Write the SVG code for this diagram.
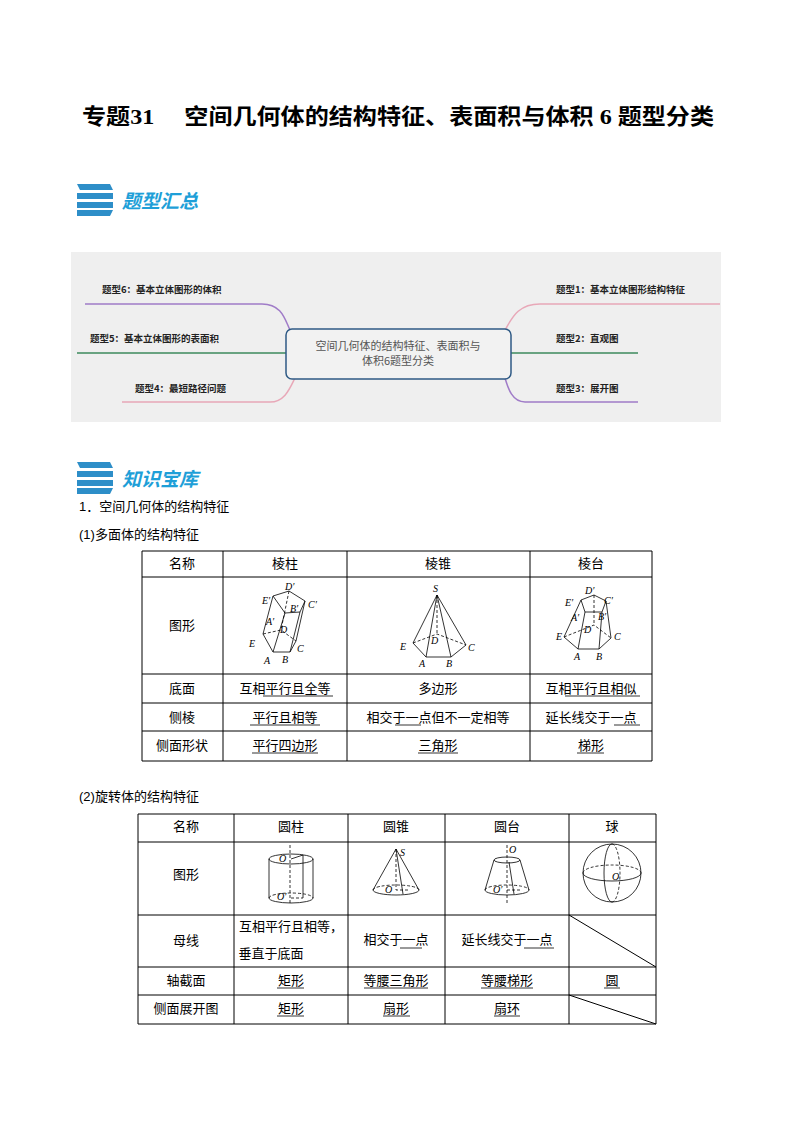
<svg xmlns="http://www.w3.org/2000/svg" width="794" height="1123" viewBox="0 0 794 1123">
<style>
.t{font-family:"Liberation Serif","Noto Sans CJK SC",serif;fill:#000}
.s{font-family:"Liberation Sans","Noto Sans CJK SC",sans-serif;font-size:13px;fill:#000}
.m{font-family:"Noto Sans CJK SC",sans-serif;font-size:9.5px;font-weight:bold;fill:#222}
.c{text-anchor:middle}
.g{stroke:#000;stroke-width:1;fill:none}
.f{stroke:#000;stroke-width:0.8;fill:none}
.d{stroke:#000;stroke-width:0.8;fill:none;stroke-dasharray:3 2}
.l{font-family:"Liberation Serif",serif;font-style:italic;font-size:10px}
.h{font-family:"Noto Sans CJK SC",serif;font-size:19px;font-weight:bold;fill:#1e9fd8;font-style:italic}
</style>
<text class="t" x="82" y="124" font-size="22" font-weight="bold" textLength="632" lengthAdjust="spacingAndGlyphs">专题31　 空间几何体的结构特征、表面积与体积 6 题型分类</text>
<g id="icon1">
<path d="M77 184 L110 184 L113 190 L80 190 Z M77 193 L113 193 L113 199 L77 199 Z M77 202 L113 202 L113 208 L77 208 Z M77 210 L113 210 L110 216 L77 216 Z" fill="#2d8ec8"/>
<text class="h" x="122" y="208">题型汇总</text>
</g>
<g id="mindmap">
<rect x="71" y="252" width="650" height="170" fill="#efefef"/>
<path d="M85 304 H262 C282 304 285 320 290 330" stroke="#a07cc8" stroke-width="1.5" fill="none"/>
<path d="M77 353 H286" stroke="#3d8a5c" stroke-width="1.5" fill="none"/>
<path d="M122 402 H270 C285 402 290 388 295 378" stroke="#e8a8b8" stroke-width="1.5" fill="none"/>
<path d="M720 304 H540 C518 304 512 318 505 330" stroke="#e8a8b8" stroke-width="1.5" fill="none"/>
<path d="M511 353 H638" stroke="#3d8a5c" stroke-width="1.5" fill="none"/>
<path d="M638 402 H525 C512 402 508 388 505 378" stroke="#a07cc8" stroke-width="1.5" fill="none"/>
<rect x="286" y="329" width="225" height="50" rx="6" fill="#f2f2f2" stroke="#2f5a85" stroke-width="1.5"/>
<text class="c" x="398" y="350" font-family="Noto Sans CJK SC,sans-serif" font-size="11" fill="#555">空间几何体的结构特征、表面积与</text>
<text class="c" x="398" y="365" font-family="Noto Sans CJK SC,sans-serif" font-size="11" fill="#555">体积6题型分类</text>
<text class="m" x="102" y="293">题型6：基本立体图形的体积</text>
<text class="m" x="90" y="342">题型5：基本立体图形的表面积</text>
<text class="m" x="135" y="392">题型4：最短路径问题</text>
<text class="m" x="556" y="293">题型1：基本立体图形结构特征</text>
<text class="m" x="556" y="342">题型2：直观图</text>
<text class="m" x="556" y="392">题型3：展开图</text>
</g>
<g id="icon2">
<path d="M77 462 L110 462 L113 468 L80 468 Z M77 471 L113 471 L113 477 L77 477 Z M77 480 L113 480 L113 486 L77 486 Z M77 488 L113 488 L110 494 L77 494 Z" fill="#2d8ec8"/>
<text class="h" x="122" y="486">知识宝库</text>
</g>
<text class="s" x="79" y="511">1．空间几何体的结构特征</text>
<text class="s" x="79" y="539">(1)多面体的结构特征</text>
<g id="table1">
<path class="g" d="M142 551 H652 V761 H142 Z M142 577 H652 M142 674 H652 M142 703 H652 M142 731 H652 M223 551 V761 M347 551 V761 M530 551 V761"/>
<g class="s c">
<text x="182" y="568">名称</text><text x="285" y="568">棱柱</text><text x="438" y="568">棱锥</text><text x="591" y="568">棱台</text>
<text x="182" y="630">图形</text>
<text x="182" y="693">底面</text><text x="285" y="693">互相平行且全等</text><text x="438" y="693">多边形</text><text x="591" y="693">互相平行且相似</text>
<text x="182" y="722">侧棱</text><text x="285" y="722">平行且相等</text><text x="438" y="722">相交于一点但不一定相等</text><text x="591" y="722">延长线交于一点</text>
<text x="182" y="750">侧面形状</text><text x="285" y="750">平行四边形</text><text x="438" y="750">三角形</text><text x="591" y="750">梯形</text>
</g>
<path class="f" d="M263 696 H333 M250 725 H320 M565 696 H640 M614 725 H640 M252 753 H318 M418 753 H458 M577 753 H604 M395 725 H421"/>
<!-- prism -->
<path class="f" d="M273 596 L289 591 L305 601 L300 612 L285 613 Z M273 596 L263 634 M285 613 L273 652 M300 612 L290 652 M305 601 L296 641 M263 634 L273 652 L290 652 L296 641"/>
<path class="d" d="M289 591 L281 630 M263 634 L281 630 L296 641"/>
<g class="l"><text x="285" y="590">D′</text><text x="262" y="604">E′</text><text x="290" y="612">B′</text><text x="308" y="608">C′</text><text x="266" y="625">A′</text><text x="280" y="633">D</text><text x="249" y="647">E</text><text x="297" y="652">C</text><text x="264" y="664">A</text><text x="282" y="663">B</text></g>
<!-- pyramid -->
<path class="f" d="M437 595 L413 643 L426 657 L451 657 L466 645 Z M437 595 L426 657 M437 595 L451 657"/>
<path class="d" d="M437 595 L437 634 M413 643 L437 634 L466 645"/>
<g class="l"><text x="433" y="592">S</text><text x="431" y="644">D</text><text x="400" y="650">E</text><text x="468" y="651">C</text><text x="419" y="667">A</text><text x="446" y="667">B</text></g>
<!-- frustum -->
<path class="f" d="M581 600 L594 595 L606 601 L602 612 L585 612 Z M581 600 L564 637 L578 649 L599 649 L611 638 L606 601 M585 612 L578 649 M602 612 L599 649"/>
<path class="d" d="M594 595 L594 625 M564 637 L594 625 L611 638"/>
<g class="l"><text x="585" y="594">D′</text><text x="565" y="606">E′</text><text x="604" y="604">C′</text><text x="571" y="621">A′</text><text x="598" y="620">B′</text><text x="584" y="633">D</text><text x="556" y="640">E</text><text x="614" y="640">C</text><text x="574" y="660">A</text><text x="596" y="660">B</text></g>
</g>
<text class="s" x="79" y="801">(2)旋转体的结构特征</text>
<g id="table2">
<path class="g" d="M138 814 H656 V1024 H138 Z M138 842 H656 M138 915 H656 M138 967 H656 M138 995 H656 M234 814 V1024 M348 814 V1024 M445 814 V1024 M569 814 V1024 M569 915 L656 967 M569 995 L656 1024"/>
<g class="s c">
<text x="186" y="831">名称</text><text x="291" y="831">圆柱</text><text x="396" y="831">圆锥</text><text x="507" y="831">圆台</text><text x="612" y="831">球</text>
<text x="186" y="879">图形</text>
<text x="186" y="945">母线</text><text x="291" y="931">互相平行且相等，</text><text x="271" y="958">垂直于底面</text>
<text x="396" y="944">相交于一点</text><text x="507" y="944">延长线交于一点</text>
<text x="186" y="985">轴截面</text><text x="291" y="985">矩形</text><text x="396" y="985">等腰三角形</text><text x="507" y="985">等腰梯形</text><text x="612" y="985">圆</text>
<text x="186" y="1013">侧面展开图</text><text x="291" y="1013">矩形</text><text x="396" y="1013">扇形</text><text x="507" y="1013">扇环</text>
</g>
<path class="f" d="M400 948 H422 M524 948 H554 M277 988 H304 M364 988 H428 M481 988 H533 M277 1016 H304 M383 1016 H410 M494 1016 H520 M604 988 H620"/>
<!-- cylinder -->
<ellipse class="f" cx="291" cy="859" rx="22" ry="5"/>
<path class="f" d="M269 859 V898 M313 859 V898 M291 859 L303 855 M303 855 V898 M269 898 A22 5 0 0 0 313 898"/>
<path class="d" d="M269 898 A22 5 0 0 1 313 898 M290 845 V905 M291 898 L303 898"/>
<g class="l"><text x="279" y="862">O</text><text x="277" y="900">O′</text></g>
<!-- cone -->
<path class="f" d="M396 849 L373 890 M396 849 L419 890 M396 849 L403 894 M373 890 A23 5 0 0 0 419 890"/>
<path class="d" d="M373 890 A23 5 0 0 1 419 890 M396 849 V890 H410"/>
<g class="l"><text x="400" y="856">S</text><text x="385" y="893">O</text></g>
<!-- frustum -->
<ellipse class="f" cx="507" cy="860" rx="13" ry="3"/>
<path class="f" d="M494 860 L485 890 M520 860 L529 890 M509 862 L514 894 M485 890 A22 5 0 0 0 529 890"/>
<path class="d" d="M485 890 A22 5 0 0 1 529 890 M507 845 V903 M507 890 L522 890"/>
<g class="l"><text x="509" y="853">O</text><text x="493" y="893">O′</text></g>
<!-- sphere -->
<circle class="f" cx="612" cy="873" r="29"/>
<path class="f" d="M583 873 A29 8 0 0 0 641 873 M612 844 A8 29 0 0 0 612 902"/>
<path class="d" d="M583 873 A29 8 0 0 1 641 873 M612 844 A8 29 0 0 1 612 902"/>
<text class="l" x="612" y="880">O</text>
</g>
</svg>
